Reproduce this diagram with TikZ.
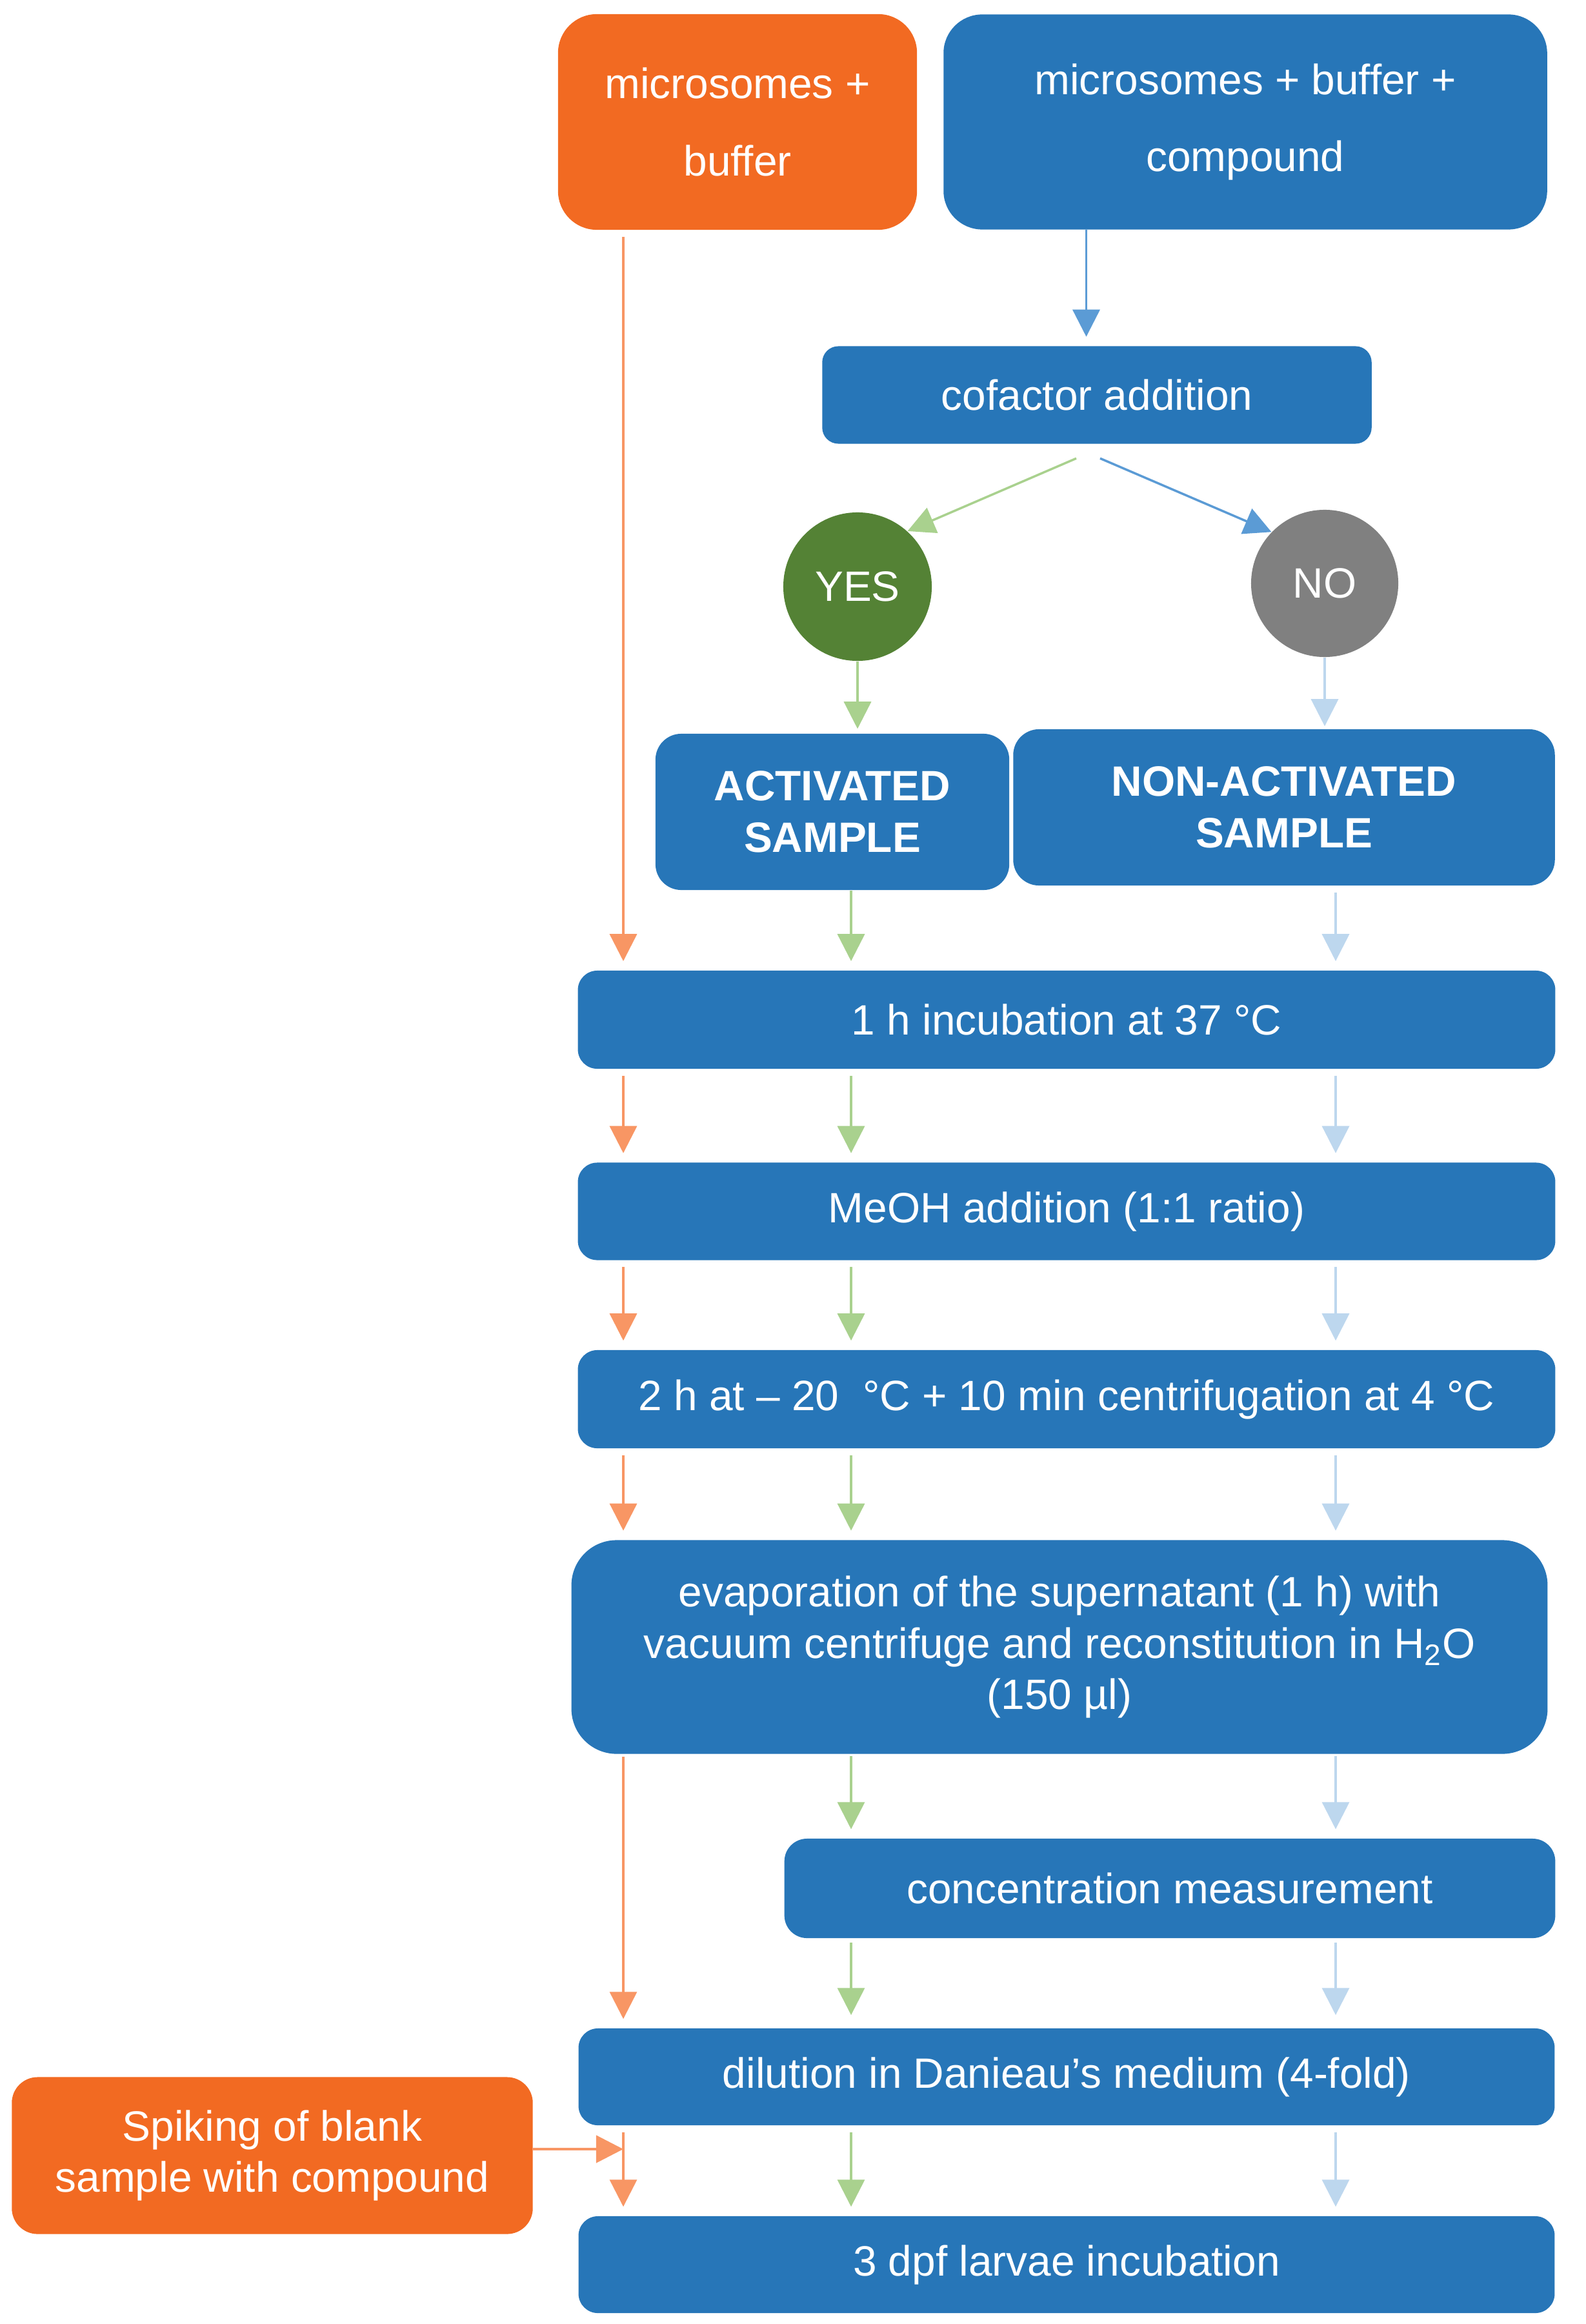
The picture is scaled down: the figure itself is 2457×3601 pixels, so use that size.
\documentclass[tikz,border=0pt]{standalone}
\usepackage{xcolor}
\usepackage{fontspec}
\setmainfont{Liberation Sans}
\usepackage{tikz}
\usetikzlibrary{arrows.meta, shapes, calc}
\definecolor{boxblue}{rgb}{0.153, 0.463, 0.722}
\definecolor{boxorange}{rgb}{0.949, 0.416, 0.133}
\definecolor{yesgreen}{rgb}{0.329, 0.510, 0.208}
\definecolor{nogray}{rgb}{0.5, 0.5, 0.5}
\definecolor{arrowgreen}{rgb}{0.663, 0.820, 0.557}
\definecolor{arrowblue}{rgb}{0.357, 0.608, 0.835}
\definecolor{arrowpaleblue}{rgb}{0.741, 0.843, 0.933}
\definecolor{arroworange}{rgb}{0.973, 0.588, 0.392}

\begin{document}
\begin{tikzpicture}[x=0.01cm, y=-0.01cm,
		every node/.style={text=white, align=center, inner sep=0pt, font=\fontsize{18.7}{22.7}\selectfont},
		bluebox/.style={fill=boxblue, rounded corners=0.3cm},
		orangebox/.style={fill=boxorange, rounded corners=0.4cm},
		tallbox/.style={font=\fontsize{18.7}{34}\selectfont, rounded corners=0.6cm},
		samplebox/.style={fill=boxblue, rounded corners=0.4cm, font=\fontsize{18.7}{22.7}\selectfont\bfseries},
		flow/.style={line width=0.035cm, -{Triangle[length=0.42cm, width=0.42cm]}, shorten <=0.1cm, shorten >=0.14cm},
		orangearrow/.style={flow, draw=arroworange},
		greenarrow/.style={flow, draw=arrowgreen},
		bluearrow/.style={flow, draw=arrowblue},
		palearrow/.style={flow, draw=arrowpaleblue}]
		\useasboundingbox (0,0) rectangle (2457,3601);
		% columns of the three sample lines
		\coordinate (colO) at (966,0);
		\coordinate (colG) at (1319,0);
		\coordinate (colB) at (2070,0);
		% boxes
		\node[orangebox, tallbox, minimum width=5.56cm, minimum height=3.34cm] (buffer) at (1143,189) {microsomes +\\buffer};
		\node[bluebox, tallbox, minimum width=9.35cm, minimum height=3.33cm] (compound) at (1930,189) {microsomes + buffer +\\compound};
		\node[bluebox, rounded corners=0.25cm, minimum width=8.51cm, minimum height=1.51cm] (cofactor) at (1700,612) {cofactor addition};
		\node[circle, fill=yesgreen, minimum size=2.3cm] (yes) at (1329,909) {YES};
		\node[circle, fill=nogray, minimum size=2.28cm] (no) at (2053,904) {NO};
		\node[samplebox, minimum width=5.48cm, minimum height=2.42cm] (act) at (1290,1258) {ACTIVATED\\SAMPLE};
		\node[samplebox, minimum width=8.39cm, minimum height=2.42cm] (nonact) at (1990,1251) {NON-ACTIVATED\\SAMPLE};
		\node[bluebox, minimum width=15.14cm, minimum height=1.52cm] (incub) at (1653,1580) {1 h incubation at 37 °C};
		\node[bluebox, minimum width=15.14cm, minimum height=1.51cm] (meoh) at (1653,1877) {MeOH addition (1:1 ratio)};
		\node[bluebox, minimum width=15.14cm, minimum height=1.52cm] (cent) at (1653,2168) {2 h at – 20 \ °C + 10 min centrifugation at 4 °C};
		\node[bluebox, rounded corners=0.7cm, minimum width=15.12cm, minimum height=3.31cm] (evap) at (1642,2552) {evaporation of the supernatant (1 h) with\\vacuum centrifuge and reconstitution in H\textsubscript{2}O\\(150 µl)};
		\node[bluebox, rounded corners=0.35cm, minimum width=11.94cm, minimum height=1.54cm] (conc) at (1813,2926) {concentration measurement};
		\node[bluebox, minimum width=15.12cm, minimum height=1.50cm] (dil) at (1653,3218) {dilution in Danieau’s medium (4-fold)};
		\node[orangebox, minimum width=8.07cm, minimum height=2.43cm] (spike) at (422,3340) {Spiking of blank\\sample with compound};
		\node[bluebox, minimum width=15.12cm, minimum height=1.50cm] (larvae) at (1653,3509) {3 dpf larvae incubation};
		% top part
		\draw[bluearrow, shorten <=0pt] ([xshift=-0.165cm]cofactor.north |- compound.south) -- ([xshift=-0.165cm]cofactor.north);
		\draw[greenarrow, shorten <=0pt, shorten >=0pt] ([xshift=-0.32cm, yshift=-0.22cm]cofactor.south) -- (yes.48);
		\draw[bluearrow, shorten <=0pt, shorten >=0pt] ([xshift=0.05cm, yshift=-0.22cm]cofactor.south) -- (no.136);
		\draw[greenarrow, shorten <=0pt, shorten >=0.07cm] (yes) -- (yes |- act.north);
		\draw[palearrow, shorten <=0pt, shorten >=0.04cm] (no) -- (no |- nonact.north);
		\draw[orangearrow] (buffer.south -| colO) -- (incub.north -| colO);
		\draw[greenarrow, shorten <=0pt] (act.south -| colG) -- (incub.north -| colG);
		\draw[palearrow] (nonact.south -| colB) -- (incub.north -| colB);
		% incubation to MeOH
		\draw[orangearrow] (incub.south -| colO) -- (meoh.north -| colO);
		\draw[greenarrow] (incub.south -| colG) -- (meoh.north -| colG);
		\draw[palearrow] (incub.south -| colB) -- (meoh.north -| colB);
		% MeOH to centrifugation
		\draw[orangearrow] (meoh.south -| colO) -- (cent.north -| colO);
		\draw[greenarrow] (meoh.south -| colG) -- (cent.north -| colG);
		\draw[palearrow] (meoh.south -| colB) -- (cent.north -| colB);
		% centrifugation to evaporation
		\draw[orangearrow] (cent.south -| colO) -- (evap.north -| colO);
		\draw[greenarrow] (cent.south -| colG) -- (evap.north -| colG);
		\draw[palearrow] (cent.south -| colB) -- (evap.north -| colB);
		% evaporation, measurement, dilution
		\draw[greenarrow, shorten <=0.03cm] (evap.south -| colG) -- (conc.north -| colG);
		\draw[palearrow, shorten <=0.03cm] (evap.south -| colB) -- (conc.north -| colB);
		\draw[orangearrow, shorten <=0.04cm] (evap.south -| colO) -- (dil.north -| colO);
		\draw[greenarrow, shorten <=0.06cm, shorten >=0.2cm] (conc.south -| colG) -- (dil.north -| colG);
		\draw[palearrow, shorten <=0.06cm, shorten >=0.2cm] (conc.south -| colB) -- (dil.north -| colB);
		% dilution to larvae
		\draw[orangearrow] (dil.south -| colO) -- (larvae.north -| colO);
		\draw[greenarrow] (dil.south -| colG) -- (larvae.north -| colG);
		\draw[palearrow] (dil.south -| colB) -- (larvae.north -| colB);
		\draw[orangearrow, line width=0.045cm, shorten <=0pt, shorten >=0pt] ([yshift=0.1cm]spike.east) -- ([yshift=0.1cm]spike.east -| colO);
		\end{tikzpicture}
\end{document}
